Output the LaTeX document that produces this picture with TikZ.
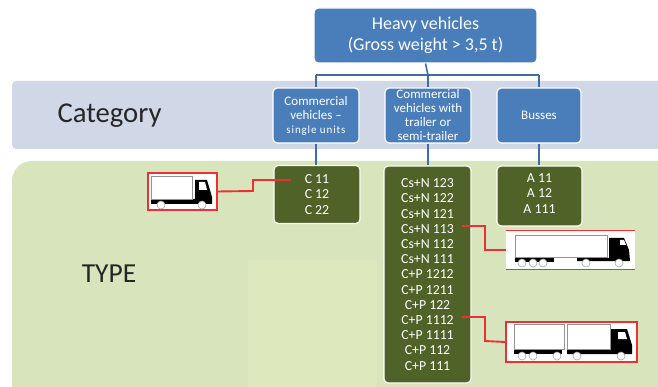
\documentclass[tikz,border=0pt]{standalone}
\usepackage{fontspec}
\setmainfont{Carlito}
\usepackage{tikz}
\usetikzlibrary{positioning,calc}
\definecolor{catblue}{HTML}{4A7EBB}
\definecolor{catband}{HTML}{D0D8E8}
\definecolor{typeband}{HTML}{D8E4BC}
\definecolor{typepatch}{HTML}{DDE8BD}
\definecolor{typebox}{HTML}{4F6228}
\definecolor{linkblue}{HTML}{3E6DA8}
\definecolor{linkred}{HTML}{EE3033}
\newcommand{\smallunits}[1]{{\fontsize{11}{13}\addfontfeature{LetterSpace=8}\selectfont #1}}

\begin{document}
\begin{tikzpicture}[x=1pt,y=-1pt,
       catnode/.style={draw=white, fill=catblue, text=white, line width=1.2pt, rounded corners=1.5mm, align=center, inner sep=0pt, font=\fontsize{13}{14}\selectfont},
       typenode/.style={draw=white, fill=typebox, text=white, line width=1.2pt, rounded corners=1.5mm, align=center, inner sep=0pt, font=\fontsize{13.8}{15.2}\selectfont},
       bluelink/.style={draw=linkblue, line width=1.6pt},
       redlink/.style={draw=linkred, line width=1.9pt},
       frame/.style={fill=white, inner sep=0pt},
       cargo/.style={draw=gray!85, fill=white, line width=.9pt},
       wheel/.style={draw=gray!70, fill=white, line width=.6pt}]
      \useasboundingbox (0,0) rectangle (658,387);
      \clip (0,0) rectangle (658,387);
      % bands
      \fill[catband, rounded corners=1.5mm] (12,81) rectangle (680,149);
      \fill[typeband, rounded corners=7mm] (12,161) rectangle (678,420);
      \fill[typepatch] (248,260) rectangle (377,387);
      \node[font=\fontsize{28.7}{32}\selectfont, text=black!85] (cat) at (109.5,116) {Category};
      \node[font=\fontsize{27.5}{30}\selectfont, text=black!85] (typ) at (109,274) {TYPE};

      \node[catnode, minimum width=223pt, minimum height=55pt, font=\fontsize{18}{20.5}\selectfont] (v00) at (425.5,35.5) {Heavy vehicles\\(Gross weight > 3,5 t)};
      \node[catnode, minimum width=86pt, minimum height=55pt] (v10) at (316,115.5) {Commercial\\vehicles --\\\smallunits{single units}};
      \node[catnode, minimum width=86pt, minimum height=55pt] (v11) at (428,115.5) {Commercial\\vehicles with\\trailer or\\semi-trailer};
      \node[catnode, minimum width=84pt, minimum height=55pt] (v12) at (539,115.5) {Busses};
      \node[typenode, minimum width=86pt, minimum height=58pt] (v20) at (317,194.5) {C 11\\C 12\\C 22};
      \node[typenode, minimum width=87pt, minimum height=217pt] (v21) at (427.5,274.5) {Cs+N 123\\Cs+N 122\\Cs+N 121\\Cs+N 113\\Cs+N 112\\Cs+N 111\\C+P 1212\\C+P 1211\\C+P 122\\C+P 1112\\C+P 1111\\C+P 112\\C+P 111};
      \node[typenode, minimum width=85pt, minimum height=60pt] (v22) at (539.5,196) {A 11\\A 12\\A 111\\[-10pt]\mbox{}};

      \coordinate (bus) at (428,75);
      \path[bluelink] (v00.south) edge (bus);
      \path[bluelink] (bus) edge (bus -| v10.north);
      \path[bluelink] (bus) edge (bus -| v12.north);
      \path[bluelink] (bus -| v10.north) edge (v10.north);
      \path[bluelink] (bus) edge (v11.north);
      \path[bluelink] (bus -| v12.north) edge (v12.north);
      \path[bluelink] (v10.south) edge (v20.north -| v10.south);
      \path[bluelink] (v11.south) edge (v21.north -| v11.south);
      \path[bluelink] (v12.south) edge (v22.north -| v12.south);

      % truck frames
      \node[frame, draw=linkred, line width=1.2pt, minimum width=69pt, minimum height=37pt] (t0) at (182.5,191.5) {};
      \node[frame, minimum width=129pt, minimum height=38pt] (t1) at (570.5,250) {};
      \draw[linkred, line width=1.2pt] (t1.north west) -- (t1.north east);
      \draw[linkred, line width=1.2pt] (t1.south west) -- (t1.south east);
      \node[frame, draw=linkred, line width=1.2pt, minimum width=131pt, minimum height=40pt] (t2) at (571.5,342) {};

      % single unit
      \fill[black] (192,199) -- (195,199) -- (195,180) -- (207,180) -- (212,197) -- (212,204) -- (151,204) -- (151,199) -- cycle;
      \fill[white] (199,182) -- (205,182) -- (207,190) -- (199,190) -- cycle;
      \draw[cargo] (151.5,176) rectangle (192,199);
      \draw[wheel] (161,205) circle (4pt);
      \draw[wheel] (202,205) circle (4pt);

      % semi-trailer
      \fill[black] (515,258) rectangle (554,262);
      \fill[black] (577,258) -- (609,258) -- (609,238) -- (624,238) -- (629,250) -- (630,261) -- (577,261) -- cycle;
      \fill[white] (620,240) -- (624,240) -- (626,245) -- (620,245) -- cycle;
      \draw[cargo] (515,235) rectangle (607,257);
      \draw[wheel] (522,263) circle (4pt);
      \draw[wheel] (533,263) circle (4pt);
      \draw[wheel] (543,263) circle (4pt);
      \draw[wheel] (586,263) circle (4pt);
      \draw[wheel] (619,263) circle (4pt);

      % road train
      \fill[black] (514,350) rectangle (562,354);
      \fill[black] (567,350) -- (611,350) -- (611,329) -- (627,329) -- (632,345) -- (632,354) -- (567,354) -- cycle;
      \fill[white] (618,332) -- (625,332) -- (627,339) -- (618,339) -- cycle;
      \draw[cargo] (514.5,324) rectangle (564,349);
      \draw[cargo] (567,324) rectangle (610,349);
      \draw[wheel] (522,356) circle (4pt);
      \draw[wheel] (533,356) circle (4pt);
      \draw[wheel] (557,356) circle (4pt);
      \draw[wheel] (577,356) circle (4pt);
      \draw[wheel] (621,356) circle (4pt);

      % links to the trucks
      \coordinate (r0) at (291,180);
      \coordinate (r1) at (462,226);
      \coordinate (r2) at (462,317);
      \draw[redlink] (t0.east) -- (253,191) -- (253,180) -- (r0);
      \draw[redlink] (r1) -- (485,226) -- (485,250) -- (t1.west);
      \draw[redlink] (r2) -- (485,317) -- (485,341) -- (t2.west);
\end{tikzpicture}
\end{document}
